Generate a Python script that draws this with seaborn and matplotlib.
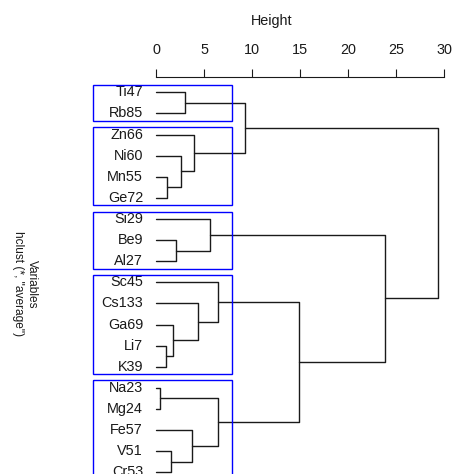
import numpy as np
import pandas as pd
import matplotlib
matplotlib.use("Agg")
import matplotlib.pyplot as plt
from matplotlib.patches import Rectangle
import seaborn as sns

# Hojas del dendrograma (orden de arriba a abajo)
labels = ["Ti47", "Rb85", "Zn66", "Ni60", "Mn55", "Ge72", "Si29", "Be9", "Al27",
          "Sc45", "Cs133", "Ga69", "Li7", "K39", "Na23", "Mg24", "Fe57", "V51", "Cr53"]

# Uniones: hijo izquierdo, hijo derecho, altura (hclust average)
merge_left = ["Na23", "Li7", "Mn55", "V51", "Ga69", "Be9", "Ni60", "Ti47", "Fe57",
              "Zn66", "Cs133", "Si29", "Sc45", "m1", "m8", "m13", "m12", "m15"]
merge_right = ["Mg24", "K39", "Ge72", "Cr53", "m2", "Al27", "m3", "Rb85", "m4",
               "m7", "m5", "m6", "m11", "m9", "m10", "m14", "m16", "m17"]
merge_height = [0.42, 1.04, 1.20, 1.56, 1.74, 2.08, 2.57, 3.05, 3.80,
                4.00, 4.34, 5.60, 6.46, 6.50, 9.27, 14.9, 23.9, 29.4]

n_clusters = 5

sns.set_theme(style="white")
plt.rcParams['font.family'] = ['Liberation Sans', 'DejaVu Sans']

# Posicion y altura de cada nodo
pos = {lab: float(i) for i, lab in enumerate(labels)}
hgt = {lab: 0.0 for lab in labels}
span = {lab: (pos[lab], pos[lab]) for lab in labels}
children = {}
rows = []
for i, (a, b, h) in enumerate(zip(merge_left, merge_right, merge_height)):
    name = f"m{i + 1}"
    pos[name] = (pos[a] + pos[b]) / 2
    hgt[name] = h
    span[name] = (min(span[a][0], span[b][0]), max(span[a][1], span[b][1]))
    children[name] = (a, b)
    pts = [(hgt[a], pos[a]), (h, pos[a]), (h, pos[b]), (hgt[b], pos[b])]
    for k, (x, y) in enumerate(pts):
        rows.append({"seg": i, "order": k, "height": x, "leaf": y})
seg_df = pd.DataFrame(rows)

fig = plt.figure(figsize=(4.54, 4.74), dpi=100)
ax = fig.add_axes([93 / 454, 1 - 487.9 / 474, 357.7 / 454, 411.2 / 474])

sns.lineplot(data=seg_df, x="height", y="leaf", units="seg", estimator=None,
             sort=False, color="#1a1a1a", linewidth=1.0, ax=ax, legend=False)

xmin, xmax = -6.56, 30.7
ax.set_xlim(xmin, xmax)
ax.set_ylim(18.74, -0.74)

# Etiquetas de las hojas
for lab in labels:
    ax.text(-1.35, pos[lab], lab, ha="right", va="center", fontsize=10.4,
            color="#1a1a1a")

# Rectangulos de los grupos (corte en k grupos)
hs = sorted(merge_height, reverse=True)
cut = (hs[n_clusters - 2] + hs[n_clusters - 1]) / 2
root = f"m{len(merge_height)}"
stack = [root]
groups = []
while stack:
    node = stack.pop()
    if hgt[node] > cut:
        stack.extend(children[node])
    else:
        groups.append(span[node])
for lo, hi in groups:
    ax.add_patch(Rectangle((xmin, lo - 0.35), cut - xmin, hi - lo + 0.7,
                           fill=False, edgecolor="#0000ff", linewidth=1.0,
                           clip_on=False, zorder=3))

# Eje superior estilo R
ax.xaxis.tick_top()
ax.xaxis.set_label_position("top")
ax.set_xticks(np.arange(0, 31, 5))
ax.set_yticks([])
ax.tick_params(axis="x", top=True, bottom=False, direction="out", length=6,
               width=0.8, pad=8.5, labelsize=10.4, colors="#1a1a1a")
for s in ["left", "right", "bottom"]:
    ax.spines[s].set_visible(False)
ax.spines["top"].set_bounds(0, 30)
ax.spines["top"].set_linewidth(0.8)
ax.spines["top"].set_color("#1a1a1a")
ax.set_xlabel("Height", fontsize=10.4, labelpad=13, color="#1a1a1a")
ax.set_ylabel("")

fig.text(25 / 454, 1 - 284 / 474, 'Variables\nhclust (*, "average")',
         rotation=270, ha="center", va="center", multialignment="center",
         fontsize=8.6, color="#1a1a1a")

fig.savefig("out.png", dpi=100)
